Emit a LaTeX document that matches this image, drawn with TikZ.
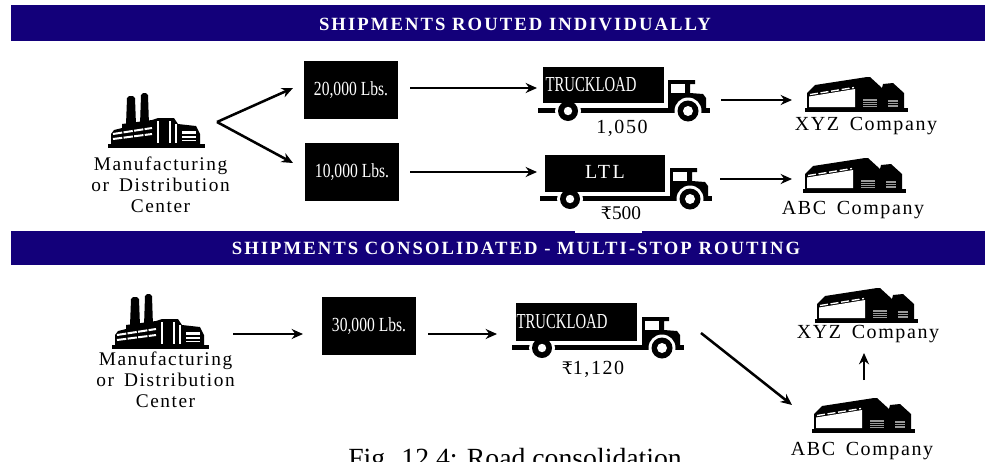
\documentclass[tikz,border=0pt]{standalone}
\usepackage{fontspec}
\setmainfont{Liberation Serif}
\newfontfamily\rupee{DejaVu Serif}
\newfontfamily\widefont[WordSpace=1.6]{Liberation Serif}
\usetikzlibrary{arrows.meta}
\definecolor{bar}{HTML}{13007A}
\tikzset{
  x=0.75pt,y=-0.75pt,
  bartitle/.style={fill=bar,minimum width=731pt,inner sep=0pt},
  bartext/.style={inner sep=0pt,text=white,font=\bfseries\fontsize{14}{16}\selectfont\addfontfeature{LetterSpace=11}},
  loadbox/.style={fill=black,minimum width=70.5pt,minimum height=43.5pt,inner sep=0pt,text=white,font=\fontsize{15}{17}\selectfont\addfontfeature{FakeStretch=0.78}},
  lbl/.style={inner sep=0pt,align=center,text=black,font=\widefont\fontsize{14.5}{15.6}\selectfont\addfontfeature{LetterSpace=8}},
  clbl/.style={inner sep=0pt,align=center,text=black,font=\widefont\fontsize{15}{16}\selectfont\addfontfeature{LetterSpace=8}},
  cost/.style={inner sep=0pt,text=black,font=\fontsize{14.5}{16}\selectfont},
  boxtext/.style={inner sep=0pt,text=white,font=\fontsize{16}{18}\selectfont\addfontfeature{FakeStretch=0.69}},
  flow/.style={line width=1.9pt,-{Stealth[length=8.5pt,width=7.5pt]}},
  pics/factory/.style={code={
    \fill (0,0) rectangle (97,-4);
    \fill (18,-23) -- (19,-50) -- (21,-52) -- (25,-52) -- (27,-50) -- (28,-23) -- cycle;
    \fill (32,-23) -- (33,-53) -- (35,-55) -- (38,-55) -- (40,-53) -- (41,-23) -- cycle;
    \fill (3,-3) -- (3,-14) -- (6,-18) -- (14,-20) -- (14,-24) -- (44,-28) -- (50,-30) -- (66,-30) -- (70,-24) -- (88,-22) -- (92,-14) -- (92,-3) -- cycle;
    \draw[white,line width=1.5pt,dash pattern=on 7pt off 1pt] (5,-14) -- (44,-20);
    \draw[white,line width=1.5pt,dash pattern=on 7pt off 1pt] (5,-9) -- (44,-14);
    \draw[white,line width=.9pt] (50,-27) -- (50,-5) (62,-27) -- (62,-5) (68,-24) -- (68,-5);
    \fill[white] (74,-17) rectangle (88,-14.5);
    \fill[white] (74,-12.5) rectangle (88,-10);
    \fill[white] (74,-8.5) rectangle (88,-7);
  }},
  pics/truck/.style={code={
    \fill (-5,11) rectangle (167,16);
    \fill (125,13) -- (125,-17) -- (152,-17) -- (152,-13) -- (147,-13) -- (147,-4) -- (160,-3) -- (163,1) -- (163,13) -- cycle;
    \fill[white] (128,-13) rectangle (142,-4);
    \fill[white] (25,14) circle (13);
    \fill[white] (145,14) circle (13.5);
    \fill (25,14) circle (10);
    \fill[white] (25,14) circle (4.2);
    \fill (145,14) circle (10.5);
    \fill[white] (145,14) circle (5);
  }},
  pics/warehouse/.style={code={
    \fill (0,0) rectangle (103,-4);
    \fill (2,-4) -- (2,-19) -- (10,-27) -- (62,-35) -- (65,-35) -- (77,-24) -- (78,-28) -- (88,-29) -- (99,-19) -- (99,-4) -- cycle;
    \fill[white] (4,-5) -- (4,-15.5) -- (50,-23) -- (50,-5) -- cycle;
    \draw[white,line width=1pt,dash pattern=on 6pt off 2pt] (5,-17.5) -- (49,-24.5);
    \fill[white,opacity=.6] (58,-13) rectangle (72,-5);
    \fill[white,opacity=.6] (83,-12) rectangle (93,-5);
    \draw[black,line width=.5pt] (58,-11) -- (72,-11) (58,-9) -- (72,-9) (58,-7) -- (72,-7) (83,-10) -- (93,-10) (83,-7.5) -- (93,-7.5);
  }}
}
\begin{document}
\begin{tikzpicture}
\useasboundingbox (0,0) rectangle (1005,461);
% header bars
\node[bartitle,minimum height=27pt] (barA) at (498,23) {};
\node[bartext] (barAt) at (515,24) {SHIPMENTS ROUTED INDIVIDUALLY};
\node[bartitle,minimum height=25.5pt] (barB) at (498,248) {};
\node[bartext] (barBt) at (516,248) {SHIPMENTS CONSOLIDATED - MULTI-STOP ROUTING};
\fill[white] (575,229) rectangle (642,232.5);
% factories
\pic at (108,148) {factory};
\pic at (112,349) {factory};
\node[lbl] (mfgA) at (160.5,185) {Manufacturing\\or Distribution\\Center};
\node[lbl] (mfgB) at (165.5,380) {Manufacturing\\or Distribution\\Center};
% load boxes
\node[loadbox] (loadA) at (351,90) {20,000 Lbs.};
\node[loadbox] (loadB) at (352,172) {10,000 Lbs.};
\node[loadbox] (loadC) at (369,326) {30,000 Lbs.};
% trucks
\pic at (543,97) {truck};
\node[fill=black,minimum width=90.5pt,minimum height=27pt,inner sep=0pt] (boxA) at (603.5,85) {};
\node[boxtext] at (591,85) {TRUCKLOAD};
\pic at (545,185) {truck};
\node[fill=black,minimum width=90.5pt,minimum height=28pt,inner sep=0pt] (boxB) at (605,173.5) {};
\node[boxtext,font=\fontsize{15}{17}\selectfont\addfontfeature{LetterSpace=12}] at (605,172) {LTL};
\pic at (517,334) {truck};
\node[fill=black,minimum width=90.5pt,minimum height=28.5pt,inner sep=0pt] (boxC) at (576.5,322) {};
\node[boxtext] at (562,322) {TRUCKLOAD};
\node[clbl] (costA) at (622,128) {1,050};
\node[cost] (costB) at (621,213) {{\rupee\fontsize{13}{14}\selectfont ₹}500};
\node[clbl] (costC) at (593,369) {{\rupee\fontsize{13}{14}\selectfont ₹}1,120};
% warehouses
\pic at (805,112) {warehouse};
\pic at (803,193) {warehouse};
\pic at (815,323) {warehouse};
\pic at (812,433) {warehouse};
\node[clbl] (xyzA) at (866,126) {XYZ Company};
\node[clbl] (abcA) at (853,210) {ABC Company};
\node[clbl] (xyzB) at (868,334) {XYZ Company};
\node[clbl] (abcB) at (862,451) {ABC Company};
% caption
\node[inner sep=0pt,anchor=base west,font=\fontsize{20.8}{24}\selectfont] (cap) at (348,467) {Fig. 12.4: Road consolidation};
% connector ends
\coordinate (forkS) at (217,122);
\coordinate (forkA) at (293,88);
\coordinate (forkB) at (293,163);
\coordinate (lAo) at (410,88);
\coordinate (lBo) at (410,172);
\coordinate (lCo) at (428,334);
\coordinate (tA) at (537,88);
\coordinate (tB) at (537,172);
\coordinate (tAo) at (721,100);
\coordinate (tBo) at (720,179);
\coordinate (wA) at (792,100);
\coordinate (wB) at (792,179);
\coordinate (fCo) at (233,334);
\coordinate (lCi) at (303,334);
\coordinate (tCi) at (497,334);
\coordinate (tCo) at (701,333);
\coordinate (wC) at (792,405);
\coordinate (up) at (864,353);
\coordinate (upE) at (864,380);
\draw[flow] (forkS) -- (forkA);
\draw[flow] (forkS) -- (forkB);
\draw[flow] (lAo) -- (tA);
\draw[flow] (lBo) -- (tB);
\draw[flow] (tAo) -- (wA);
\draw[flow] (tBo) -- (wB);
\draw[flow] (fCo) -- (lCi);
\draw[flow] (lCo) -- (tCi);
\draw[flow] (tCo) -- (wC);
\draw[flow] (upE) -- (up);
\end{tikzpicture}
\end{document}
